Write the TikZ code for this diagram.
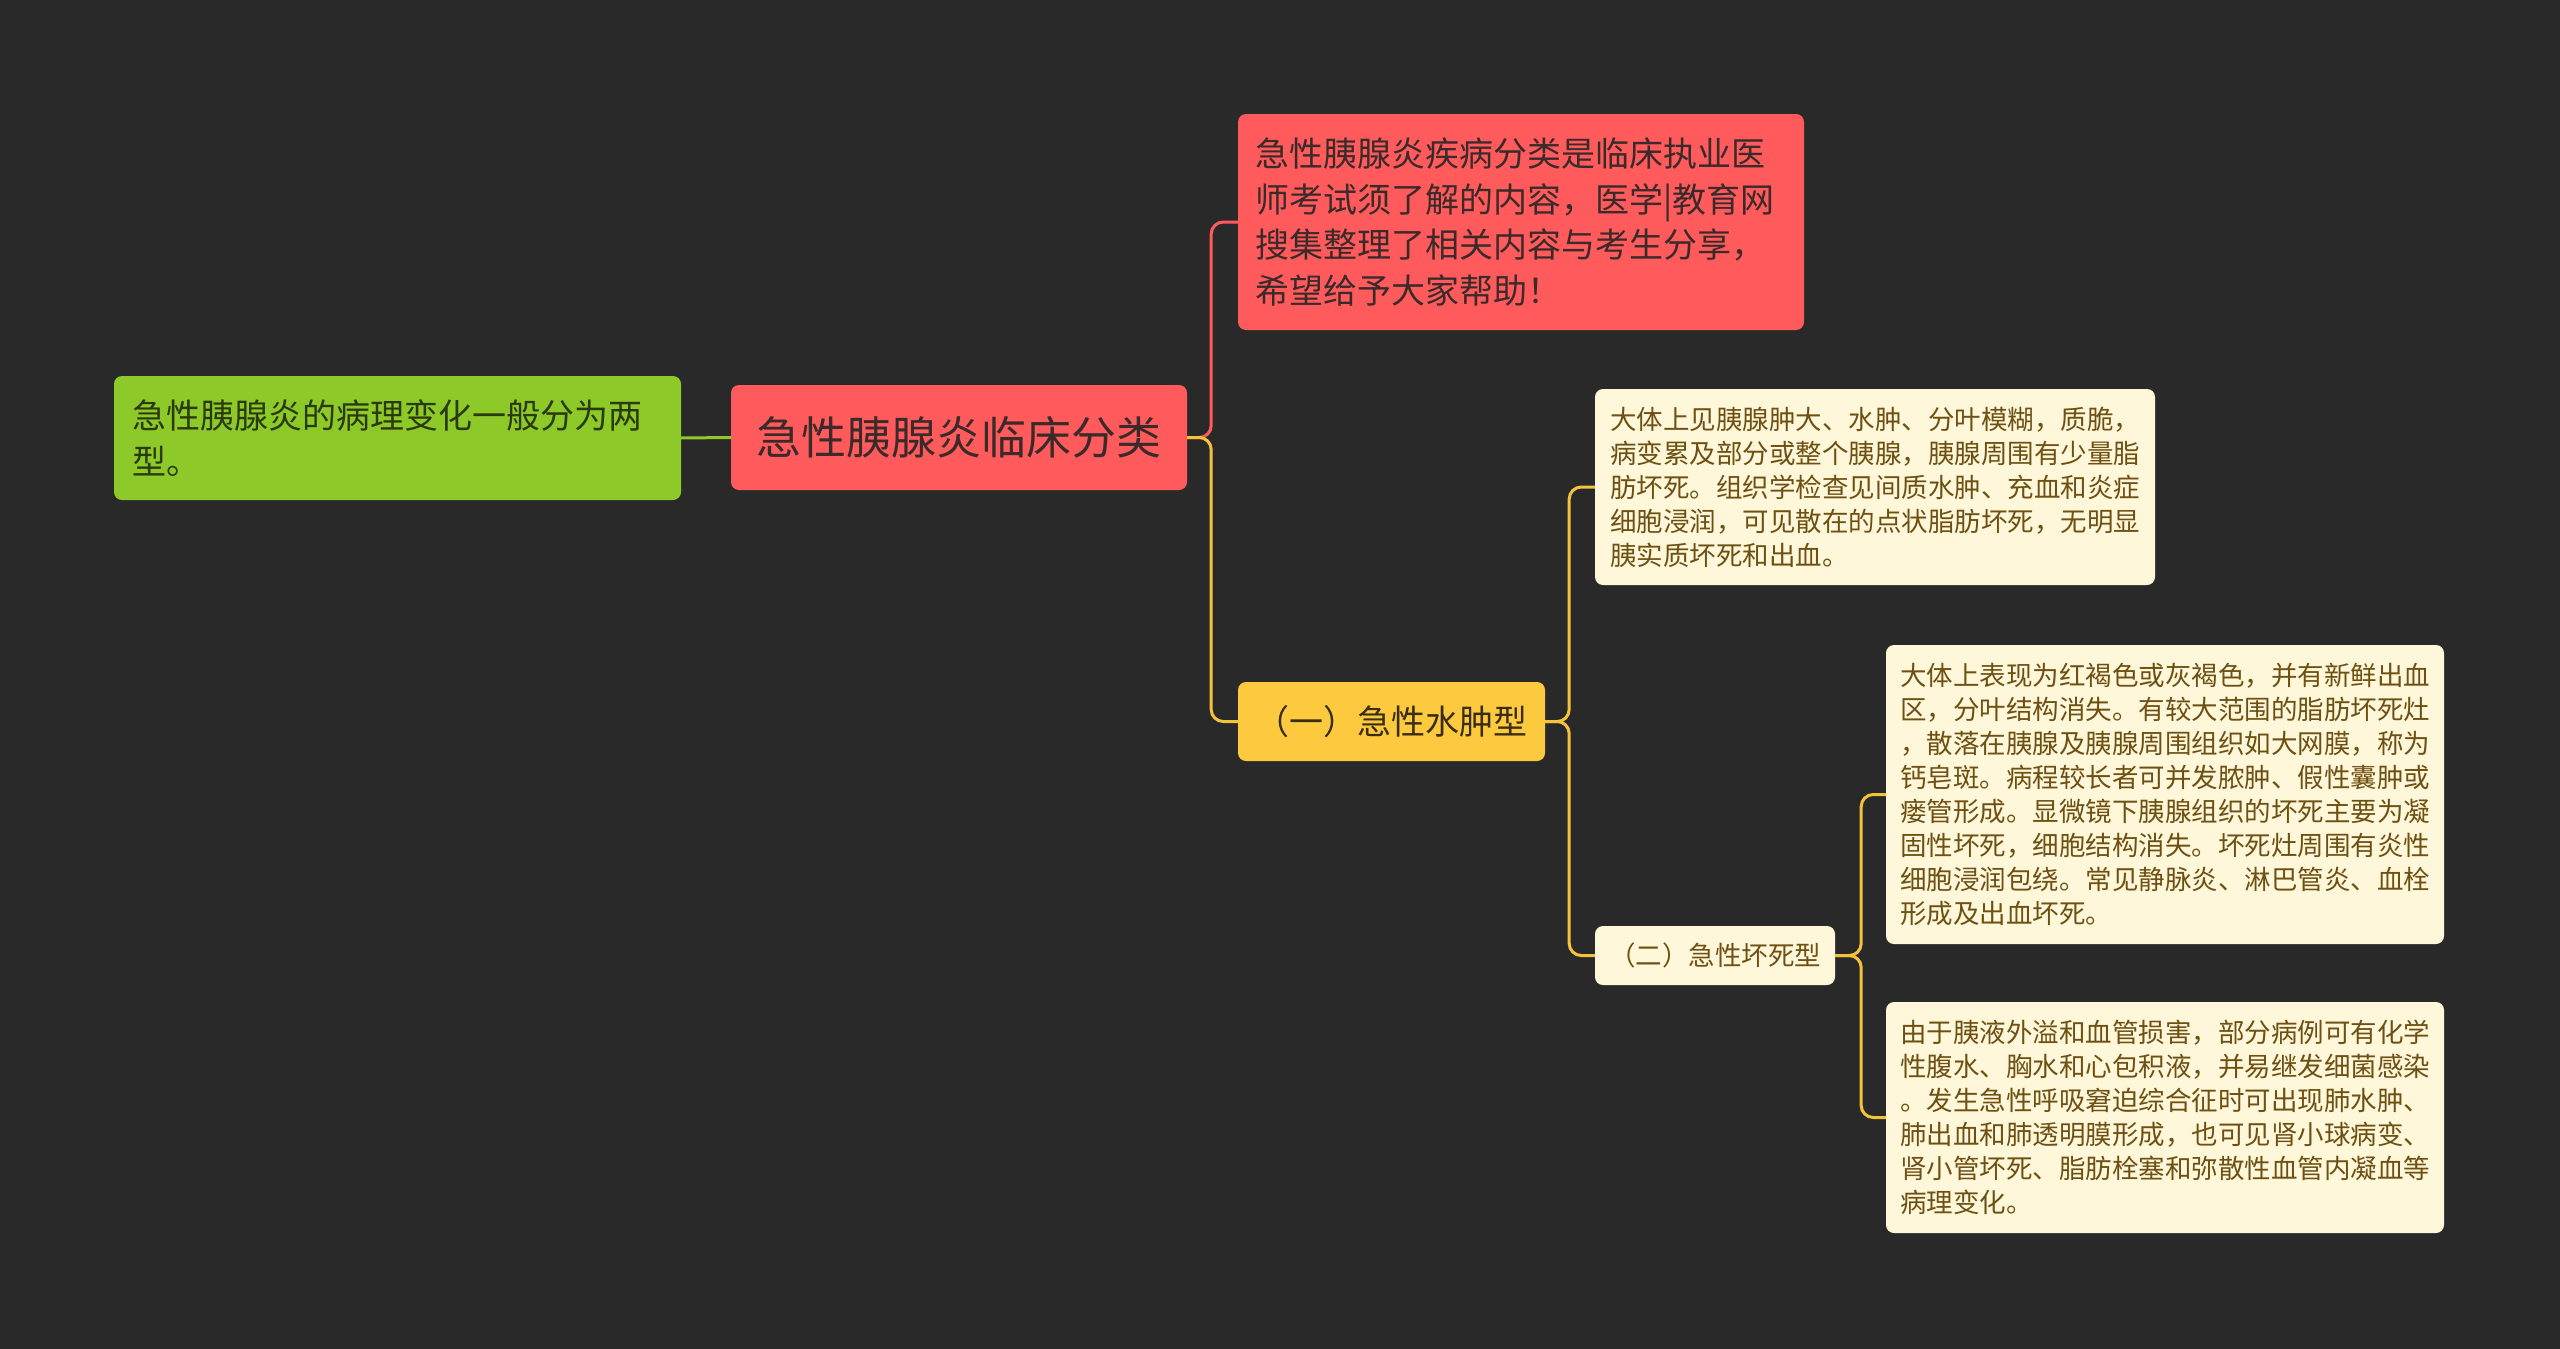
\documentclass[tikz,border=0pt]{standalone}
\usepackage{fontspec}
\setmainfont{Noto Sans CJK SC}
\definecolor{bg}{HTML}{292929}
\definecolor{gfill}{HTML}{8CC929}
\definecolor{rfill}{HTML}{FF5A5C}
\definecolor{yfill}{HTML}{FDC93E}
\definecolor{cfill}{HTML}{FFF7DA}
\definecolor{gtext}{HTML}{2B3A0C}
\definecolor{rtext}{HTML}{3B2A2A}
\definecolor{ytext}{HTML}{3A2E12}
\definecolor{ctext}{HTML}{6E5012}
\definecolor{rline}{HTML}{FF5A5C}
\definecolor{yline}{HTML}{F5C33B}
\definecolor{gline}{HTML}{8CC929}
\begin{document}
\begin{tikzpicture}[x=1pt,y=-1pt,
  box/.style={rounded corners=8pt, inner sep=0pt, anchor=center},
  conn/.style={line width=3pt, rounded corners=12pt},
  ftbig/.style={font=\fontsize{45}{54}\selectfont},
  ftmid/.style={font=\fontsize{34}{45.7}\selectfont},
  ftsmall/.style={font=\fontsize{26.5}{34}\selectfont},
]
\fill[bg] (0,0) rectangle (2560,1349);
\useasboundingbox (0,0) rectangle (2560,1349);

\node[box, fill=gfill, text=gtext, ftmid, minimum width=567pt, minimum height=124pt, text width=531pt, align=left]
  (green) at (397.5,438) {急性胰腺炎的病理变化一般分为两\\型。};
\node[box, fill=rfill, text=rtext, ftbig, minimum width=456pt, minimum height=105pt, align=center]
  (root) at (959,437.5) {急性胰腺炎临床分类};
\node[box, fill=rfill, text=rtext, ftmid, minimum width=566pt, minimum height=216pt, text width=532pt, align=left]
  (topred) at (1521,222) {急性胰腺炎疾病分类是临床执业医\\师考试须了解的内容，医学|教育网\\搜集整理了相关内容与考生分享，\\希望给予大家帮助！};
\node[box, fill=yfill, text=ytext, ftmid, minimum width=307pt, minimum height=79pt, align=center]
  (y1) at (1391.5,721.5) {（一）急性水肿型};
\node[box, fill=cfill, text=ctext, ftsmall, minimum width=560pt, minimum height=196pt, align=left]
  (c1) at (1875,487) {大体上见胰腺肿大、水肿、分叶模糊，质脆，\\病变累及部分或整个胰腺，胰腺周围有少量脂\\肪坏死。组织学检查见间质水肿、充血和炎症\\细胞浸润，可见散在的点状脂肪坏死，无明显\\胰实质坏死和出血。};
\node[box, fill=cfill, text=ctext, ftsmall, minimum width=240pt, minimum height=59pt, align=center]
  (n2) at (1715,955.5) {（二）急性坏死型};
\node[box, fill=cfill, text=ctext, ftsmall, minimum width=558pt, minimum height=299pt, align=left]
  (c2) at (2165,794.5) {大体上表现为红褐色或灰褐色，并有新鲜出血\\区，分叶结构消失。有较大范围的脂肪坏死灶\\，散落在胰腺及胰腺周围组织如大网膜，称为\\钙皂斑。病程较长者可并发脓肿、假性囊肿或\\瘘管形成。显微镜下胰腺组织的坏死主要为凝\\固性坏死，细胞结构消失。坏死灶周围有炎性\\细胞浸润包绕。常见静脉炎、淋巴管炎、血栓\\形成及出血坏死。};
\node[box, fill=cfill, text=ctext, ftsmall, minimum width=558pt, minimum height=231pt, align=left]
  (c3) at (2165,1117.5) {由于胰液外溢和血管损害，部分病例可有化学\\性腹水、胸水和心包积液，并易继发细菌感染\\。发生急性呼吸窘迫综合征时可出现肺水肿、\\肺出血和肺透明膜形成，也可见肾小球病变、\\肾小管坏死、脂肪栓塞和弥散性血管内凝血等\\病理变化。};

\draw[conn, gline] (green.east) -- (root.west);
\draw[conn, rline] (root.east) -- ++(24,0) |- (topred.west);
\draw[conn, yline] (root.east) -- ++(24,0) |- (y1.west);
\draw[conn, yline] (y1.east) -- ++(24,0) |- (c1.west);
\draw[conn, yline] (y1.east) -- ++(24,0) |- (n2.west);
\draw[conn, yline] (n2.east) -- ++(26,0) |- (c2.west);
\draw[conn, yline] (n2.east) -- ++(26,0) |- (c3.west);
\end{tikzpicture}
\end{document}
